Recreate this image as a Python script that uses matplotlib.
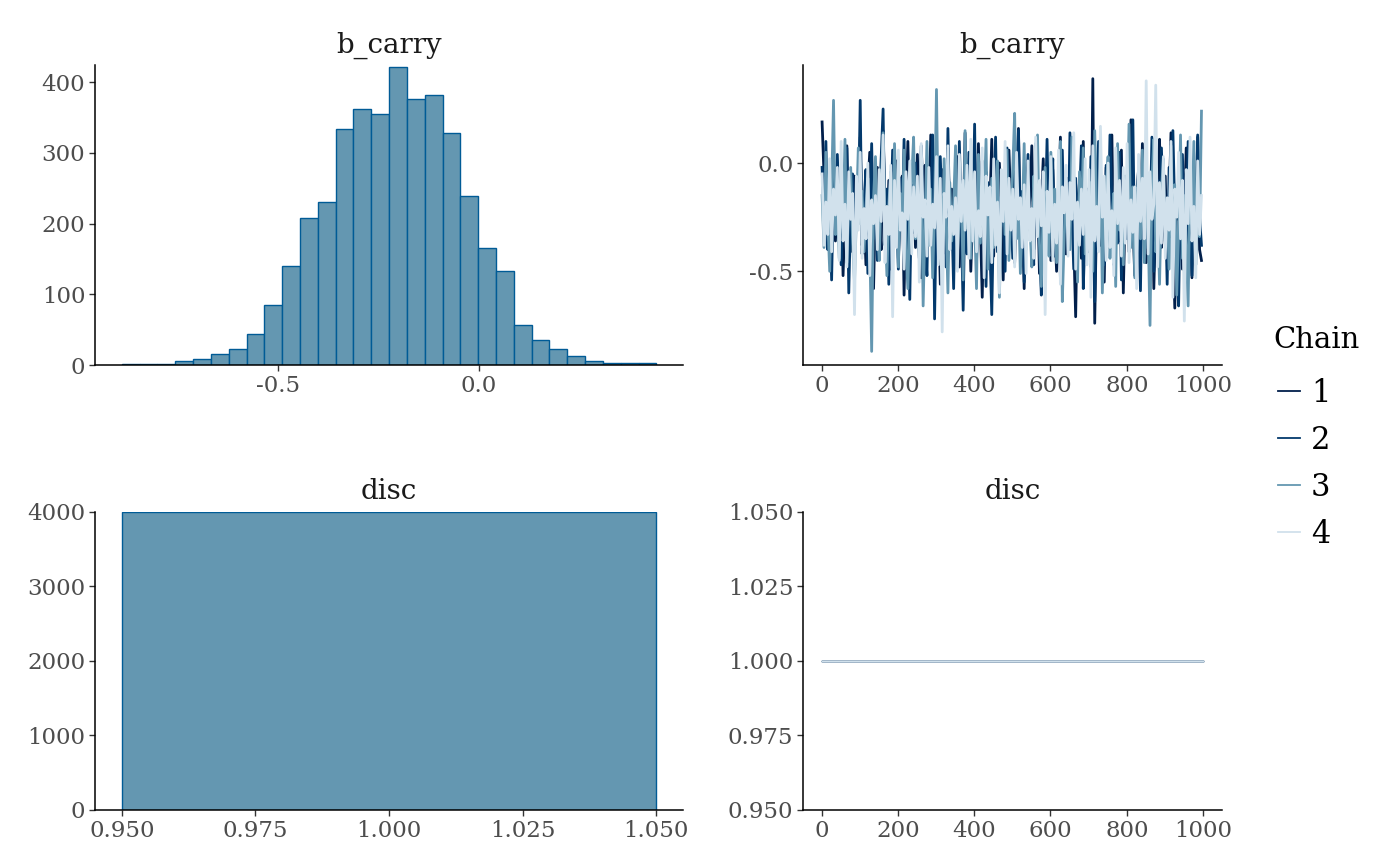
import numpy as np
import matplotlib
matplotlib.use("Agg")
import matplotlib.pyplot as plt
from matplotlib.ticker import FormatStrFormatter

plt.rcParams['font.family'] = ['DejaVu Serif']

# histogram of b_carry (all chains pooled), 30 bins
hist_counts = [2, 1, 2, 5, 9, 16, 23, 44, 85, 140,
               208, 230, 333, 362, 355, 422, 376, 382, 328, 239,
               165, 133, 56, 36, 23, 13, 5, 3, 3, 3]
bin_start = -0.889
bin_width = 0.0444

# disc is fixed at 1 -> a single bar holding all draws
disc_bin = (0.95, 1.05)
disc_count = 4000
disc_value = 1.0

# trace of b_carry, thinned: one value every 5 iterations per chain
iteration = np.arange(1, 1001, 5)
chain1 = [0.19, -0.05, -0.31, -0.12, -0.44, -0.21, 0.02, -0.36, -0.18, -0.27,
          -0.09, -0.52, -0.24, 0.08, -0.33, -0.15, -0.41, -0.06, -0.29, -0.19,
          0.12, -0.38, -0.23, -0.47, -0.11, 0.05, -0.30, -0.58, -0.17, -0.02,
          -0.26, -0.40, 0.15, -0.20, -0.35, -0.08, -0.49, -0.13, -0.28, 0.01,
          -0.44, -0.22, -0.06, -0.61, -0.19, 0.10, -0.32, -0.25, -0.14, -0.39,
          0.04, -0.27, -0.53, -0.16, -0.01, -0.34, -0.21, 0.13, -0.45, -0.10,
          -0.30, -0.18, -0.56, -0.03, -0.24, -0.42, 0.07, -0.29, -0.12, -0.37,
          -0.20, 0.03, -0.48, -0.15, -0.33, 0.14, -0.26, -0.07, -0.50, -0.23,
          -0.11, -0.39, 0.09, -0.28, -0.62, -0.17, -0.04, -0.35, -0.21, 0.11,
          -0.43, -0.14, -0.31, 0.00, -0.25, -0.54, -0.09, -0.36, 0.06, -0.19,
          -0.27, -0.46, -0.12, 0.16, -0.33, -0.22, -0.58, -0.05, -0.30, -0.16,
          0.08, -0.40, -0.24, -0.10, -0.51, -0.18, 0.02, -0.37, -0.26, -0.13,
          -0.45, -0.03, -0.29, -0.50, -0.20, 0.12, -0.34, -0.15, -0.42, -0.07,
          -0.26, 0.04, -0.37, -0.71, -0.18, -0.09, -0.44, 0.10, -0.31, -0.22,
          -0.13, -0.48, 0.39, -0.74, -0.21, 0.05, -0.38, -0.19, -0.55, -0.02,
          -0.32, -0.16, 0.13, -0.47, -0.25, -0.08, -0.36, 0.06, -0.60, -0.20,
          -0.11, -0.41, 0.20, -0.27, -0.52, -0.14, -0.03, -0.35, 0.09, -0.23,
          -0.46, -0.17, -0.30, 0.01, -0.58, -0.24, -0.10, 0.11, -0.39, -0.28,
          -0.06, -0.43, -0.19, 0.14, -0.34, -0.67, -0.13, -0.26, 0.03, -0.49,
          -0.21, 0.07, -0.37, -0.15, -0.53, -0.08, -0.31, 0.12, -0.40, -0.45]
chain2 = [-0.02, -0.28, 0.10, -0.40, -0.19, -0.54, -0.08, -0.33, 0.04, -0.23,
          -0.47, -0.14, -0.30, 0.07, -0.60, -0.21, -0.05, -0.37, -0.11, -0.26,
          0.29, -0.42, -0.18, -0.03, -0.51, -0.24, 0.09, -0.35, -0.15, -0.45,
          -0.20, 0.02, 0.25, -0.38, -0.12, -0.56, -0.27, 0.06, -0.33, -0.17,
          -0.49, -0.07, -0.29, 0.11, -0.41, -0.22, -0.63, -0.10, -0.32, 0.00,
          -0.25, -0.44, 0.08, -0.16, -0.36, -0.52, -0.04, -0.28, 0.13, -0.72,
          -0.19, -0.39, 0.03, -0.24, -0.11, -0.48, 0.16, -0.31, -0.21, -0.58,
          -0.06, -0.35, 0.10, -0.27, -0.68, -0.14, -0.42, 0.05, -0.23, -0.30,
          0.18, -0.46, -0.12, -0.33, 0.01, -0.25, -0.57, -0.09, -0.38, -0.70,
          -0.20, 0.12, -0.41, -0.16, -0.29, -0.05, -0.50, 0.07, -0.34, -0.22,
          -0.44, -0.02, -0.27, 0.15, -0.36, -0.13, -0.55, -0.19, 0.04, -0.31,
          -0.24, -0.47, 0.09, -0.15, -0.39, -0.61, -0.08, -0.28, 0.11, -0.35,
          -0.18, 0.02, -0.43, -0.26, -0.10, -0.53, 0.06, -0.32, -0.20, -0.40,
          0.14, -0.23, -0.49, -0.07, -0.36, -0.17, 0.08, -0.58, -0.29, -0.12,
          -0.41, 0.03, -0.25, -0.64, -0.14, 0.10, -0.33, -0.21, -0.47, -0.01,
          -0.30, 0.13, -0.19, -0.42, -0.06, -0.37, 0.05, -0.54, -0.24, -0.15,
          -0.35, 0.09, -0.22, 0.20, -0.45, -0.11, -0.28, -0.59, 0.02, -0.18,
          -0.39, -0.05, -0.31, 0.12, -0.50, -0.20, -0.08, -0.43, 0.07, -0.26,
          -0.16, -0.56, -0.02, -0.34, 0.15, -0.23, -0.48, -0.66, -0.12, 0.04,
          -0.29, -0.40, 0.10, -0.19, -0.52, -0.07, -0.33, 0.13, -0.25, -0.38]
chain3 = [-0.15, -0.39, 0.05, -0.27, -0.50, -0.12, 0.29, -0.33, -0.21, -0.44,
          -0.06, -0.30, 0.11, -0.46, -0.18, -0.02, -0.37, -0.55, -0.24, 0.07,
          -0.28, -0.13, -0.41, -0.20, -0.07, -0.36, -0.87, -0.16, 0.03, -0.31,
          -0.45, -0.10, 0.14, -0.26, -0.52, -0.19, -0.04, -0.34, 0.09, -0.23,
          -0.48, -0.14, -0.29, 0.06, -0.40, -0.58, -0.22, -0.08, 0.12, -0.35,
          -0.17, -0.43, -0.01, -0.66, -0.27, 0.10, -0.38, -0.12, -0.53, -0.21,
          0.34, -0.32, -0.15, -0.47, 0.02, -0.25, -0.60, -0.09, -0.36, -0.19,
          0.08, -0.42, -0.23, -0.11, -0.54, 0.15, -0.30, -0.18, -0.44, -0.05,
          -0.26, -0.58, 0.04, -0.37, -0.13, -0.20, 0.11, -0.49, -0.28, -0.07,
          -0.39, -0.16, 0.01, -0.62, -0.24, -0.10, -0.33, 0.06, -0.45, -0.21,
          -0.03, 0.23, -0.35, -0.17, -0.51, -0.26, 0.09, -0.40, -0.14, -0.29,
          -0.48, -0.06, -0.22, 0.13, -0.37, -0.57, -0.19, -0.02, -0.31, -0.43,
          0.05, -0.27, -0.12, -0.46, -0.21, 0.10, -0.64, -0.34, -0.08, -0.24,
          -0.40, 0.12, -0.18, -0.30, -0.55, -0.04, -0.28, 0.07, -0.42, -0.15,
          -0.33, -0.09, -0.50, 0.15, -0.23, -0.38, -0.01, -0.60, -0.20, -0.12,
          0.03, -0.44, -0.26, -0.14, -0.57, 0.09, -0.31, -0.19, -0.47, -0.06,
          -0.25, 0.18, -0.39, -0.11, -0.53, -0.22, -0.03, -0.35, 0.06, -0.46,
          -0.17, -0.29, -0.75, -0.08, 0.11, -0.41, -0.24, -0.56, -0.13, 0.02,
          -0.36, -0.20, -0.49, 0.08, -0.27, -0.10, -0.61, -0.32, 0.13, -0.44,
          -0.15, -0.38, -0.66, -0.05, -0.28, 0.10, -0.47, -0.21, -0.34, 0.24]
chain4 = [-0.05, -0.38, -0.18, -0.33, 0.02, -0.41, -0.12, -0.24, -0.02, -0.45,
          0.10, -0.36, -0.19, -0.48, -0.04, -0.26, -0.14, -0.70, -0.06, -0.31,
          0.05, -0.44, -0.21, -0.35, 0.00, -0.52, -0.17, -0.28, -0.15, -0.40,
          -0.03, -0.27, 0.13, -0.46, -0.20, -0.33, -0.01, -0.71, -0.08, -0.39,
          0.06, -0.31, -0.23, -0.49, -0.04, -0.26, 0.01, -0.42, -0.11, -0.34,
          -0.06, -0.55, 0.09, -0.25, -0.17, -0.43, -0.02, -0.38, -0.19, -0.30,
          0.03, -0.47, -0.07, -0.78, -0.14, -0.25, 0.08, -0.40, -0.20, -0.33,
          -0.16, -0.50, 0.04, -0.27, -0.08, -0.31, -0.01, -0.44, 0.11, -0.36,
          -0.04, -0.41, -0.22, -0.34, 0.07, -0.53, -0.06, -0.24, -0.11, -0.46,
          0.02, -0.38, -0.18, -0.60, -0.03, -0.27, 0.10, -0.42, -0.07, -0.31,
          -0.12, -0.48, 0.05, -0.26, -0.16, -0.39, -0.10, -0.51, 0.01, -0.36,
          -0.21, -0.44, 0.12, -0.34, -0.08, -0.29, -0.04, -0.70, -0.13, -0.32,
          0.03, -0.45, -0.19, -0.37, 0.06, -0.56, -0.11, -0.23, -0.01, -0.43,
          -0.09, -0.26, 0.14, -0.49, -0.18, -0.38, -0.12, -0.33, 0.02, -0.47,
          -0.03, -0.62, 0.08, -0.36, -0.20, -0.41, 0.17, -0.25, -0.06, -0.45,
          0.00, -0.39, -0.22, -0.52, 0.07, -0.28, -0.08, -0.43, -0.02, -0.37,
          0.09, -0.46, -0.17, -0.32, -0.11, -0.58, 0.04, -0.27, -0.07, -0.35,
          0.38, -0.42, -0.04, -0.26, -0.19, 0.36, -0.48, -0.09, -0.37, 0.03,
          -0.44, -0.16, -0.31, 0.10, -0.62, -0.12, -0.25, 0.05, -0.35, -0.08,
          -0.73, -0.03, -0.28, 0.12, -0.36, -0.20, -0.53, 0.01, -0.33, -0.15]
chains = [chain1, chain2, chain3, chain4]
chain_labels = ['1', '2', '3', '4']
chain_colors = ['#011f4b', '#03396c', '#6497b1', '#d1e1ec']
hist_fill = '#6497b1'
hist_edge = '#005b96'

TICK_COLOR = '#4d4d4d'
TITLE_COLOR = '#1a1a1a'


def style_axis(ax, title):
    for side in ('top', 'right'):
        ax.spines[side].set_visible(False)
    for side in ('left', 'bottom'):
        ax.spines[side].set_linewidth(1.1)
        ax.spines[side].set_color('black')
    ax.tick_params(labelsize=16.5, labelcolor=TICK_COLOR, color='#333333',
                   length=4.5, width=1.0, pad=2.5)
    ax.set_title(title, fontsize=20, color=TITLE_COLOR, pad=9)


fig = plt.figure(figsize=(14, 8.66), dpi=100)
ax_hist = fig.add_axes([0.0679, 0.5785, 0.4200, 0.3464])
ax_trace = fig.add_axes([0.5736, 0.5785, 0.2993, 0.3464])
ax_dhist = fig.add_axes([0.0679, 0.0647, 0.4200, 0.3441])
ax_dtrace = fig.add_axes([0.5736, 0.0647, 0.2993, 0.3441])

# b_carry histogram
edges = bin_start + bin_width * np.arange(len(hist_counts))
ax_hist.bar(edges, hist_counts, width=bin_width, align='edge',
            color=hist_fill, edgecolor=hist_edge, linewidth=1.0)
lo, hi = bin_start, bin_start + bin_width * len(hist_counts)
pad = 0.05 * (hi - lo)
ax_hist.set_xlim(lo - pad, hi + pad)
ax_hist.set_ylim(0, max(hist_counts) * 1.005)
ax_hist.set_xticks([-0.5, 0.0])
ax_hist.set_yticks([0, 100, 200, 300, 400])
ax_hist.xaxis.set_major_formatter(FormatStrFormatter('%.1f'))
style_axis(ax_hist, 'b_carry')

# b_carry trace
for vals, lab, col in zip(chains, chain_labels, chain_colors):
    ax_trace.plot(iteration, vals, color=col, linewidth=2.0, label=lab)
all_vals = np.concatenate(chains)
span = all_vals.max() - all_vals.min()
ax_trace.set_ylim(all_vals.min() - 0.05 * span, all_vals.max() + 0.05 * span)
ax_trace.set_xlim(1 - 0.05 * 999, 1000 + 0.05 * 999)
ax_trace.set_xticks([0, 200, 400, 600, 800, 1000])
ax_trace.set_yticks([-0.5, 0.0])
ax_trace.yaxis.set_major_formatter(FormatStrFormatter('%.1f'))
style_axis(ax_trace, 'b_carry')

# disc histogram
ax_dhist.bar(disc_bin[0], disc_count, width=disc_bin[1] - disc_bin[0], align='edge',
             color=hist_fill, edgecolor=hist_edge, linewidth=1.0)
dpad = 0.05 * (disc_bin[1] - disc_bin[0])
ax_dhist.set_xlim(disc_bin[0] - dpad, disc_bin[1] + dpad)
ax_dhist.set_ylim(0, disc_count)
ax_dhist.set_xticks([0.950, 0.975, 1.000, 1.025, 1.050])
ax_dhist.set_yticks([0, 1000, 2000, 3000, 4000])
ax_dhist.xaxis.set_major_formatter(FormatStrFormatter('%.3f'))
style_axis(ax_dhist, 'disc')

# disc trace
full_iter = np.arange(1, 1001)
for col in chain_colors:
    ax_dtrace.plot(full_iter, np.full(full_iter.shape, disc_value), color=col, linewidth=1.0)
ax_dtrace.set_xlim(1 - 0.05 * 999, 1000 + 0.05 * 999)
ax_dtrace.set_ylim(0.95, 1.05)
ax_dtrace.set_xticks([0, 200, 400, 600, 800, 1000])
ax_dtrace.set_yticks([0.950, 0.975, 1.000, 1.025, 1.050])
ax_dtrace.yaxis.set_major_formatter(FormatStrFormatter('%.3f'))
style_axis(ax_dtrace, 'disc')

handles, labels = ax_trace.get_legend_handles_labels()
fig.legend(handles, labels, loc='center left', bbox_to_anchor=(0.9129, 0.4642),
           frameon=False, fontsize=22, borderpad=0, borderaxespad=0,
           handlelength=0.72, handletextpad=0.35, labelspacing=0.52)
for line in fig.legends[0].get_lines():
    line.set_linewidth(1.3)
fig.text(1273 / 1400, 1 - 340 / 866, 'Chain', fontsize=21, va='center', ha='left')

fig.savefig('out.png', dpi=100)
